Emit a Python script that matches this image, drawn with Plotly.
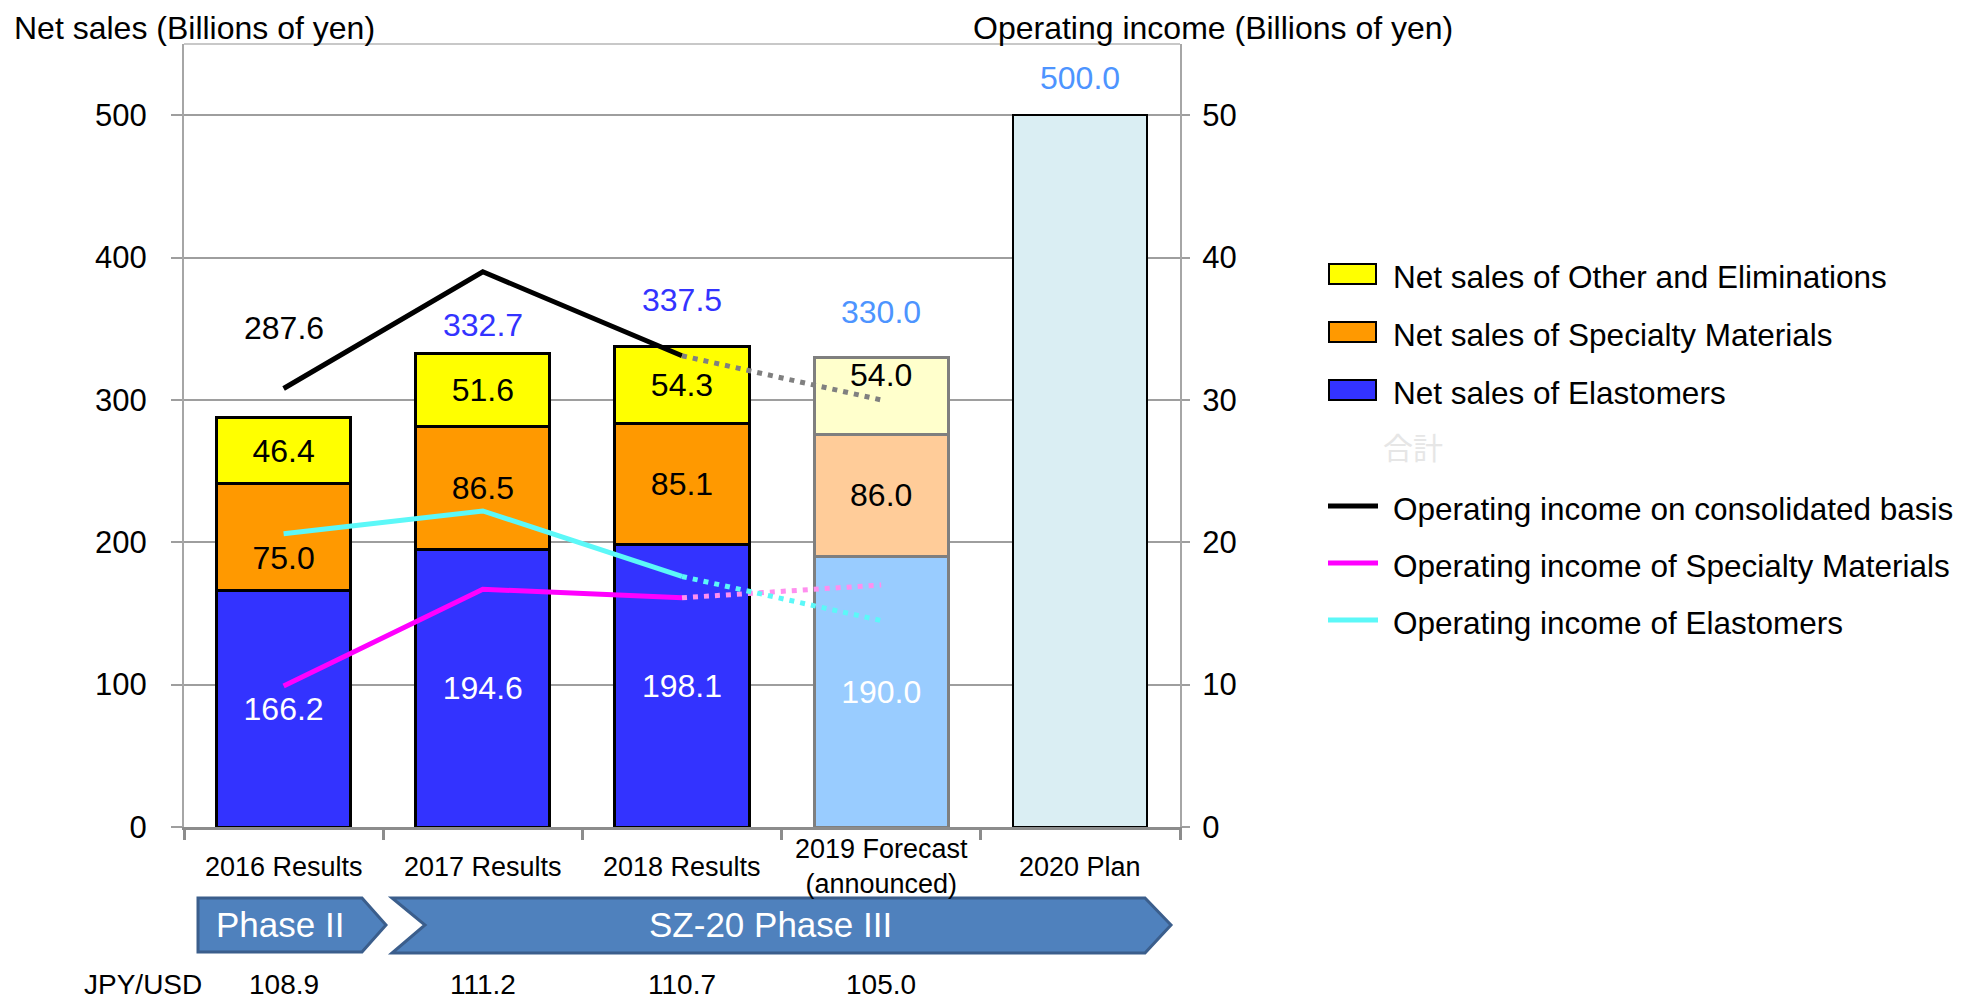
import plotly.graph_objects as go

# ---- data ----
categories = ['2016 Results', '2017 Results', '2018 Results',
              '2019 Forecast<br>(announced)', '2020 Plan']

sales_elastomers = [166.2, 194.6, 198.1, 190.0]
sales_specialty = [75.0, 86.5, 85.1, 86.0]
sales_other = [46.4, 51.6, 54.3, 54.0]
sales_total = [287.6, 332.7, 337.5, 330.0, 500.0]
sales_plan = [500.0]

oi_consolidated = [30.8, 39.0, 33.1, 30.0]
oi_specialty = [9.9, 16.7, 16.1, 17.0]
oi_elastomers = [20.6, 22.2, 17.6, 14.5]

jpy_usd = ['108.9', '111.2', '110.7', '105.0']

legend_names = ['Net sales of Other and Eliminations',
                'Net sales of Specialty Materials',
                'Net sales of Elastomers',
                'Operating income on consolidated basis',
                'Operating income of Specialty Materials',
                'Operating income of Elastomers']

# ---- page geometry (screen pixels) ----
OFF = 8                      # default body margin of the html page
W, H = 1964 - OFF, 999 - OFF
PLOT_L, PLOT_R, PLOT_T, PLOT_B = 184, 1180, 44, 827
PW, PH = PLOT_R - PLOT_L, PLOT_B - PLOT_T


def px(x):
    return (x - PLOT_L) / PW


def py(y):
    return (PLOT_B - y) / PH


FONT = 'Arial, Liberation Sans, sans-serif'
GRID = '#9E9E9E'

fig = go.Figure()


def bar_trace(values, actual_color, forecast_color, text_color, text=None):
    n = len(values)
    if text is None:
        text = [f'{v:.1f}' for v in values]
    return go.Bar(
        x=categories[:n], y=values, text=text,
        marker=dict(color=[actual_color] * (n - 1) + [forecast_color],
                    line=dict(color=['black'] * (n - 1) + ['#7F7F7F'], width=3)),
        texttemplate='%{text}', textposition='inside',
        insidetextanchor='middle', textangle=0, constraintext='none',
        textfont=dict(family=FONT, size=32, color=text_color),
        showlegend=False, hoverinfo='skip',
    )


# a couple of labels are nudged off-centre to dodge the lines, as in the original
specialty_text = [f'{v:.1f}' for v in sales_specialty]
specialty_text[0] = '\u00a0<br>' + specialty_text[0]
other_text = [f'{v:.1f}' for v in sales_other]
other_text[3] = other_text[3] + '<br>\u00a0'

fig.add_trace(bar_trace(sales_elastomers, '#3333FF', '#99CCFF', 'white'))
fig.add_trace(bar_trace(sales_specialty, '#FF9900', '#FFCC99', 'black', specialty_text))
fig.add_trace(bar_trace(sales_other, '#FFFF00', '#FFFFCC', 'black', other_text))
fig.add_trace(go.Bar(
    x=categories[4:], y=sales_plan,
    marker=dict(color='#DAEEF3', line=dict(color='black', width=2)),
    showlegend=False, hoverinfo='skip',
))


def oi_lines(values, color, dot_color):
    fig.add_trace(go.Scatter(
        x=categories[:3], y=values[:3], yaxis='y2', mode='lines',
        line=dict(color=color, width=5), showlegend=False, hoverinfo='skip'))
    fig.add_trace(go.Scatter(
        x=categories[2:4], y=values[2:4], yaxis='y2', mode='lines',
        line=dict(color=dot_color, width=5, dash='5px,6px'),
        showlegend=False, hoverinfo='skip'))


oi_lines(oi_consolidated, 'black', '#808080')
oi_lines(oi_specialty, '#FF00FF', '#FF8FEF')
oi_lines(oi_elastomers, '#5CF8F8', '#5CF8F8')

annotations = []


def note(x, y, text, size, color='black', xanchor='center', font=FONT):
    annotations.append(dict(x=px(x), y=py(y), xref='paper', yref='paper',
                            xanchor=xanchor, yanchor='middle', text=text,
                            showarrow=False, font=dict(family=font, size=size, color=color)))


# totals above the bars (offsets chosen to keep clear of the lines)
total_colors = ['black', '#3333FF', '#3333FF', '#4D94FF', '#4D94FF']
total_offset = [63, 20, 33, 32, 26]
for cat, tot, off, col in zip(categories, sales_total, total_offset, total_colors):
    annotations.append(dict(x=cat, y=tot + off, xref='x', yref='y',
                            xanchor='center', yanchor='middle',
                            text=f'{tot:.1f}', showarrow=False,
                            font=dict(family=FONT, size=32, color=col)))

# category labels
for cat in categories:
    annotations.append(dict(x=cat, y=py(867), xref='x', yref='paper',
                            xanchor='center', yanchor='middle',
                            text=cat, showarrow=False,
                            font=dict(family=FONT, size=27, color='black')))

# JPY/USD row
note(143, 984, 'JPY/USD', 28)
for cat, rate in zip(categories, jpy_usd):
    annotations.append(dict(x=cat, y=py(984), xref='x', yref='paper',
                            xanchor='center', yanchor='middle',
                            text=rate, showarrow=False,
                            font=dict(family=FONT, size=28, color='black')))

# axis titles
note(12, 28, 'Net sales (Billions of yen)', 32, xanchor='left')
note(1213, 28, 'Operating income (Billions of yen)', 32)

# phase arrows
shapes = []


def path(points):
    s = 'M' + ' L'.join(f'{px(x):.5f},{py(y):.5f}' for x, y in points)
    return s + ' Z'


shapes.append(dict(type='path', xref='paper', yref='paper',
                   path=path([(198, 898), (362, 898), (386, 925), (362, 952), (198, 952)]),
                   fillcolor='#4F81BD', line=dict(color='#3B5E8C', width=3)))
shapes.append(dict(type='path', xref='paper', yref='paper',
                   path=path([(392, 898), (1145, 898), (1171, 925), (1145, 953),
                              (392, 953), (425, 925)]),
                   fillcolor='#4F81BD', line=dict(color='#3B5E8C', width=3)))
note(280, 924, 'Phase II', 35, 'white')
note(770, 924, 'SZ-20 Phase III', 35, 'white')

# top border of plot area
shapes.append(dict(type='line', xref='paper', yref='paper', x0=0, x1=1, y0=1, y1=1,
                   line=dict(color='#C8C8C8', width=2)))

# legend (drawn by hand to get the wide swatches)
legend_rows = [274, 332, 390, 506, 563, 620]
box_colors = ['#FFFF00', '#FF9900', '#3333FF']
line_colors = ['black', '#FF00FF', '#5CF8F8']
for i, (name, yrow) in enumerate(zip(legend_names, legend_rows)):
    if i < 3:
        shapes.append(dict(type='rect', xref='paper', yref='paper',
                           x0=px(1329), x1=px(1376), y0=py(yrow + 10), y1=py(yrow - 10),
                           fillcolor=box_colors[i], line=dict(color='black', width=2)))
    else:
        shapes.append(dict(type='line', xref='paper', yref='paper',
                           x0=px(1328), x1=px(1378), y0=py(yrow), y1=py(yrow),
                           line=dict(color=line_colors[i - 3], width=5)))
    note(1391, yrow + 3, name, 31.5, xanchor='left')
note(1381, 446, '合計', 30, '#E6E6E6', xanchor='left', font='Noto Sans CJK JP')

fig.update_layout(
    width=W, height=H,
    margin=dict(l=PLOT_L - OFF, r=W + OFF - PLOT_R, t=PLOT_T - OFF, b=H + OFF - PLOT_B),
    paper_bgcolor='white', plot_bgcolor='white',
    barmode='stack', bargap=0.327,
    showlegend=False,
    font=dict(family=FONT, size=31, color='black'),
    xaxis=dict(type='category', showticklabels=False,
               ticks='outside', tickson='boundaries', ticklen=10, tickwidth=3,
               tickcolor='#8C8C8C', showline=True, linecolor='#8C8C8C', linewidth=3,
               showgrid=False),
    yaxis=dict(range=[0, 550], tickvals=[0, 100, 200, 300, 400, 500],
               ticks='outside', ticklen=11, tickwidth=2, tickcolor=GRID,
               ticklabelstandoff=18,
               showgrid=True, gridcolor=GRID, gridwidth=2, zeroline=False,
               showline=True, linecolor='#A6A6A6', linewidth=2,
               tickfont=dict(family=FONT, size=31, color='black')),
    yaxis2=dict(range=[0, 55], tickvals=[0, 10, 20, 30, 40, 50],
                overlaying='y', side='right',
                ticks='outside', ticklen=8, tickwidth=2, tickcolor=GRID,
                ticklabelstandoff=6,
                showgrid=False, zeroline=False,
                showline=True, linecolor='#A6A6A6', linewidth=2,
                tickfont=dict(family=FONT, size=31, color='black')),
    annotations=annotations,
    shapes=shapes,
)

fig.write_html('out.html')
